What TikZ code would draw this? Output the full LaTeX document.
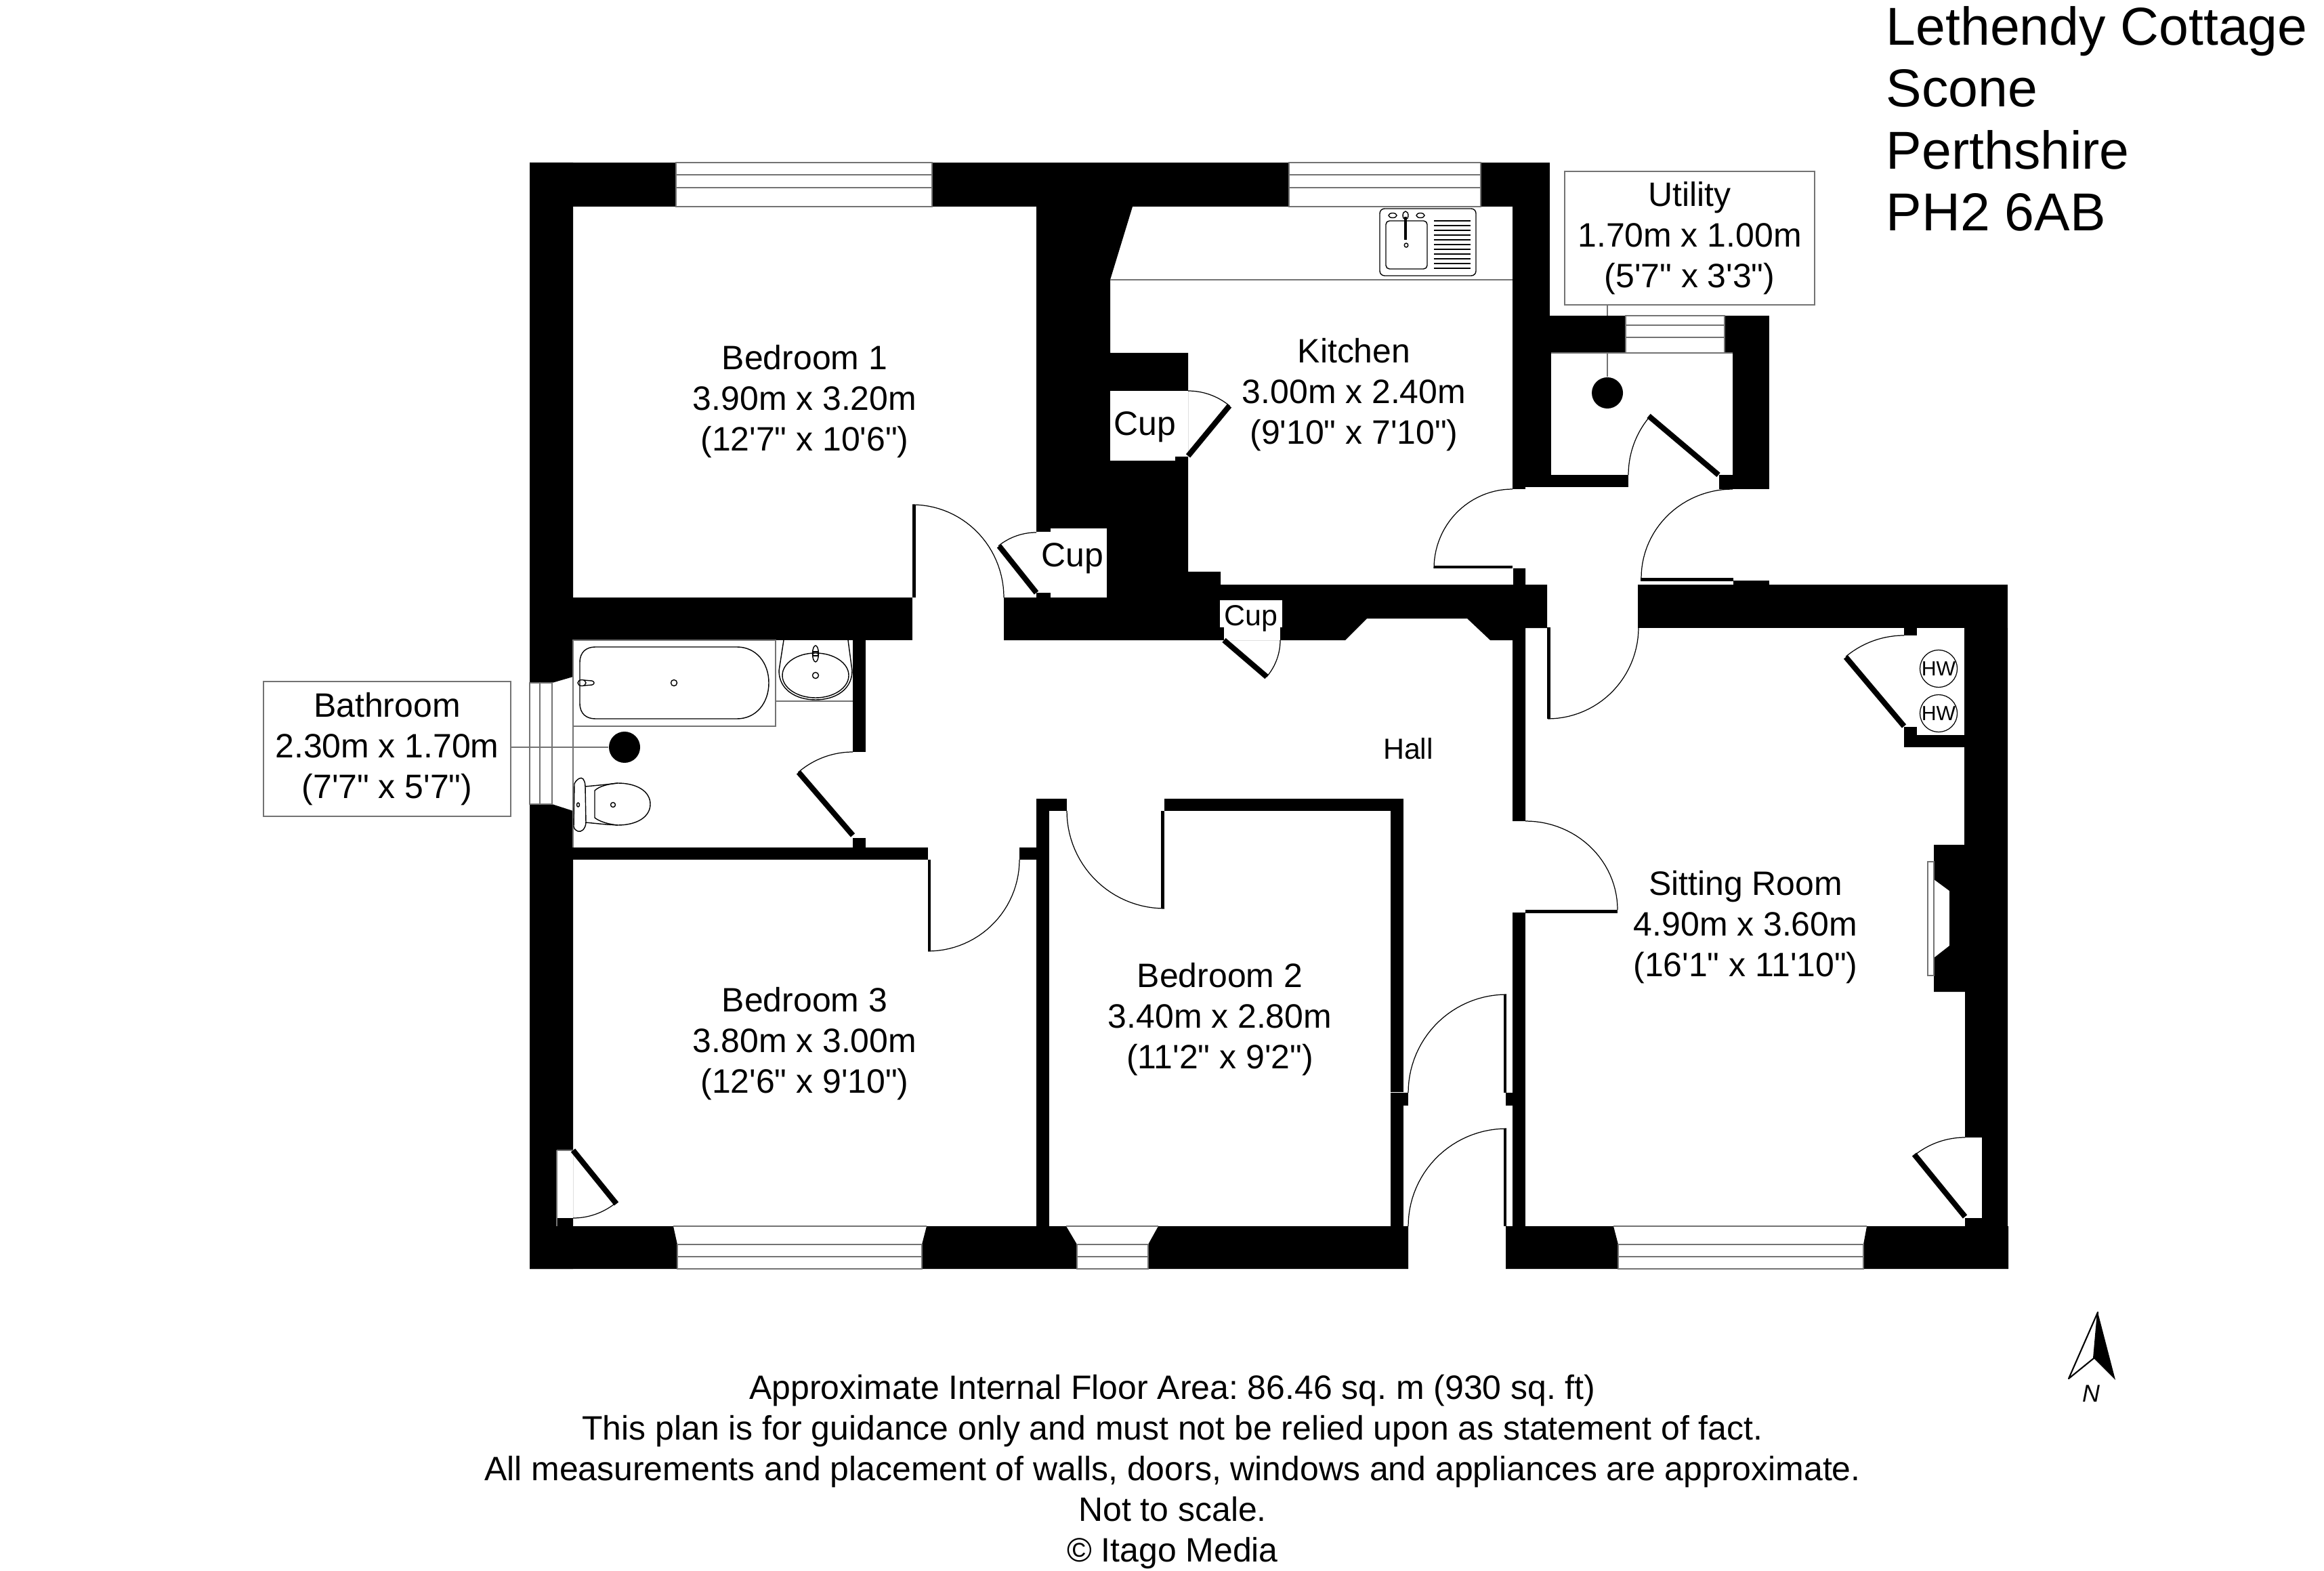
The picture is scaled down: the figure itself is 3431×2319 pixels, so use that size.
\documentclass[tikz,border=0pt]{standalone}
\usepackage{fontspec}
\setmainfont{Liberation Sans}
\newfontfamily\plainsans{Liberation Sans}
\frenchspacing
\newcommand{\sz}[2]{\plainsans\frenchspacing\fontsize{#1}{#2}\selectfont}
\newcommand{\swing}[6]{\draw[swingline] plot[domain=#5:#6,samples=28] ({#1+#3*cos(\x)},{#2+#4*sin(\x)});}
\begin{document}
\begin{tikzpicture}[x=0.01cm,y=-0.01cm,
  wall/.style={fill=black,draw=none},
  gap/.style={fill=white,draw=none},
  pane/.style={draw=black!55,line width=0.5pt},
  fixture/.style={draw=black,line width=0.4pt},
  graybar/.style={draw=black!55,line width=0.65pt},
  swingline/.style={draw=black,line width=0.35pt},
  leaf/.style={draw=black,line width=2.3pt},
  roomtext/.style={align=center,inner sep=0pt,font=\sz{14.2}{17.07}},
  labelbox/.style={draw=black!55,line width=0.55pt,inner sep=0pt,align=center,font=\sz{14.2}{17.07}},
  smalltext/.style={inner sep=0pt,anchor=base,font=\sz{12.2}{14}},
  cuptext/.style={inner sep=0pt,anchor=base,font=\sz{14.2}{17}},
  vent/.style={circle,fill=black,draw=none,inner sep=0pt,minimum size=0.46cm},
  hwtext/.style={circle,draw=black,line width=0.35pt,inner sep=0pt,minimum size=0.55cm,font=\sz{8.6}{9}},
]
\useasboundingbox (0,0) rectangle (3431,2319);
\fill[white] (0,0) rectangle (3431,2319);

% vents and label boxes
\node[vent] (bathdot) at (922,1103) {};
\node[vent] (utildot) at (2373,580) {};
\node[labelbox,minimum width=3.65cm,minimum height=1.99cm] (bathlabel) at (571.5,1105.5) {\raisebox{2pt}{Bathroom}\\\raisebox{2pt}{2.30m x 1.70m}\\\raisebox{2pt}{(7'7" x 5'7")}};
\node[labelbox,minimum width=3.69cm,minimum height=1.97cm] (utillabel) at (2494.5,351.5) {\raisebox{1pt}{Utility}\\\raisebox{1pt}{1.70m x 1.00m}\\\raisebox{1pt}{(5'7" x 3'3")}};
\draw[pane] (bathdot.west) -- (bathdot.west -| bathlabel.east);
\draw[pane] (utildot.north) -- (utildot.north |- utillabel.south);

% outer and load walls
\path[wall] (782,240) rectangle (998,305);
\path[wall] (1376,240) rectangle (1903,305);
\path[wall] (2186,240) rectangle (2288,305);
\path[wall] (782,240) -- (846,240) -- (846,999) -- (815,1008) -- (782,1008) -- cycle;
\path[wall] (782,1187) -- (815,1187) -- (846,1197) -- (846,1873) -- (782,1873) -- cycle;
\path[wall] (846,882) rectangle (1347,945);
\path[wall] (1530,305) -- (1672,305) -- (1639,413) -- (1639,521) -- (1754,521) -- (1754,844) -- (1802,844) -- (1802,863) -- (2234,863) -- (2234,839) -- (2252,839) -- (2252,863) -- (2284,863) -- (2284,927) -- (2252,927) -- (2252,1212) -- (2233,1212) -- (2233,945) -- (2200,945) -- (2166,913) -- (2018,913) -- (1986,945) -- (1482,945) -- (1482,882) -- (1530,882) -- cycle;
\path[gap] (1551,780) rectangle (1634,882);
\path[gap] (1530,785) rectangle (1551,875);
\path[gap] (1639,577) rectangle (1754,674);
\path[gap] (1639,674) rectangle (1735,680);
\path[gap] (1801,886) rectangle (1893,926);
\path[gap] (1807,926) rectangle (1890,945);
% kitchen / utility
\path[wall] (2233,305) rectangle (2288,466);
\path[wall] (2233,466) rectangle (2290,701);
\path[wall] (2233,466) rectangle (2400,521);
\path[wall] (2546,466) rectangle (2612,521);
\path[wall] (2558,521) rectangle (2612,701);
\path[wall] (2538,701) rectangle (2612,722);
\path[wall] (2233,701) rectangle (2404,719);
\path[wall] (2233,719) rectangle (2252,722);
% sitting room
\path[wall] (2418,863) rectangle (2964,927);
\path[wall] (2559,857) rectangle (2612,863);
\path[wall] (2811,927) rectangle (2830,938);
\path[wall] (2811,1073) rectangle (2830,1085);
\path[wall] (2811,1085) rectangle (2964,1103);
\path[wall] (2900,927) -- (2964,927) -- (2964,1810) -- (2901,1810) -- (2901,1798) -- (2926,1798) -- (2926,1679) -- (2901,1679) -- (2901,1464) -- (2855,1464) -- (2855,1414) -- (2878,1396) -- (2878,1315) -- (2855,1298) -- (2855,1247) -- (2900,1247) -- cycle;
\path[wall] (2233,1347) rectangle (2252,1613);
\path[wall] (2223,1613) rectangle (2252,1632);
\path[wall] (2233,1632) rectangle (2252,1810);
% bathroom and bedrooms
\path[wall] (1259,945) rectangle (1278,1110);
\path[wall] (1259,1237) rectangle (1278,1251);
\path[wall] (846,1251) rectangle (1370,1269);
\path[wall] (1505,1251) rectangle (1549,1269);
\path[wall] (1530,1179) rectangle (1549,1810);
\path[wall] (1530,1179) rectangle (1575,1197);
\path[wall] (1719,1179) rectangle (2072,1197);
\path[wall] (2053,1197) rectangle (2072,1612);
\path[wall] (2053,1613) rectangle (2079,1632);
\path[wall] (2053,1632) rectangle (2072,1810);
\path[gap] (822,1698) rectangle (846,1798);
% bottom wall
\path[wall] (782,1810) -- (994,1810) -- (1000,1837) -- (1000,1873) -- (782,1873) -- cycle;
\path[wall] (1368,1810) -- (1574,1810) -- (1590,1837) -- (1590,1873) -- (1361,1873) -- (1361,1837) -- cycle;
\path[wall] (1710,1810) -- (2079,1810) -- (2079,1873) -- (1695,1873) -- (1695,1837) -- cycle;
\path[wall] (2223,1810) -- (2382,1810) -- (2389,1837) -- (2389,1873) -- (2223,1873) -- cycle;
\path[wall] (2756,1810) -- (2965,1810) -- (2965,1873) -- (2751,1873) -- (2751,1837) -- cycle;

% windows
\draw[pane] (998,240) rectangle (1376,305) (998,258) -- (1376,258) (998,277) -- (1376,277);
\draw[pane] (1903,240) rectangle (2186,305) (1903,258) -- (2186,258) (1903,277) -- (2186,277);
\draw[pane] (2400,466) rectangle (2546,521) (2400,480) -- (2546,480) (2400,498) -- (2546,498);
\draw[pane] (2290,521) -- (2558,521);
\draw[pane] (1000,1837) rectangle (1361,1873) (1000,1855) -- (1361,1855) (994,1810) -- (1368,1810);
\draw[pane] (1590,1837) rectangle (1695,1873) (1590,1855) -- (1695,1855) (1574,1810) -- (1710,1810);
\draw[pane] (2389,1837) rectangle (2751,1873) (2389,1855) -- (2751,1855) (2382,1810) -- (2756,1810);
\draw[pane] (782,1008) rectangle (815,1187) (797,1008) -- (797,1187);
\draw[pane] (846,945) -- (846,1251);
\draw[pane] (822,1698) -- (822,1810) (822,1698) -- (846,1698);
\draw[pane] (2846,1272) rectangle (2855,1440);
\draw[pane] (1639,413) -- (2233,413);

% door leaves
\path[wall] (1347,745) rectangle (1352,882);
\path[wall] (2117,835) rectangle (2233,839);
\path[wall] (2422,853) rectangle (2559,858);
\path[wall] (2284,926) rectangle (2289,1061);
\path[wall] (2252,1343) rectangle (2388,1348);
\path[wall] (2220,1468) rectangle (2224,1613);
\path[wall] (2220,1666) rectangle (2224,1810);
\path[wall] (1714,1197) rectangle (1719,1341);
\path[wall] (1370,1269) rectangle (1374,1404);
\draw[leaf] (1530,875) -- (1475,806);
\draw[leaf] (1754,673) -- (1815,599);
\draw[leaf] (1807,945) -- (1870,999);
\draw[leaf] (2537,701) -- (2434,614);
\draw[leaf] (2811,1072) -- (2725,970);
\draw[leaf] (2901,1796) -- (2826,1704);
\draw[leaf] (846,1698) -- (910,1777);
\draw[leaf] (1259,1233) -- (1179,1140);

% door swings
\swing{1347}{882}{135}{137}{270}{360}
\swing{1530}{875}{89}{89}{231}{270}
\swing{1754}{673}{96}{96}{270}{310}
\swing{1807}{945}{83}{83}{0}{41}
\swing{2233}{839}{116}{117}{180}{270}
\swing{2537}{701}{133}{133}{180}{220}
\swing{2558}{853}{135}{131}{180}{270}
\swing{2285}{926}{134}{135}{0}{90}
\swing{2811}{1072}{134}{134}{230}{270}
\swing{2252}{1343}{136}{131}{270}{360}
\swing{2224}{1613}{145}{145}{180}{270}
\swing{2224}{1810}{145}{144}{180}{270}
\swing{2901}{1798}{119}{119}{231}{270}
\swing{846}{1698}{100}{100}{51}{90}
\swing{1719}{1197}{144}{144}{90}{180}
\swing{1370}{1269}{135}{135}{0}{90}
\swing{1259}{1233}{123}{123}{229}{270}

% bath
\draw[graybar] (846,945) rectangle (1145,1072);
\draw[fixture] (856,978) .. controls (856,962) and (866,955) .. (879,955) -- (1088,955) .. controls (1116,955) and (1135,978) .. (1135,1008) .. controls (1135,1038) and (1116,1061) .. (1088,1061) -- (879,1061) .. controls (866,1061) and (856,1054) .. (856,1038) -- cycle;
\draw[fixture] (859,1008) ellipse [x radius=6,y radius=4.5];
\draw[fixture] (862,1004) -- (874,1005) .. controls (878,1006) and (878,1010) .. (874,1011) -- (862,1012);
\draw[fixture] (995,1008) ellipse [x radius=4.5,y radius=4.5];
% basin
\draw[graybar] (1145,945) -- (1145,1035) -- (1259,1035);
\draw[fixture] (1157,945) -- (1150,990) .. controls (1150,1018) and (1175,1033) .. (1204,1033) .. controls (1233,1033) and (1258,1018) .. (1258,990) -- (1252,945);
\draw[fixture] (1204,997) ellipse [x radius=49,y radius=33];
\draw[fixture] (1204,997) ellipse [x radius=4.5,y radius=4.5];
\draw[fixture] (1204,965) ellipse [x radius=4.5,y radius=12];
\draw[fixture] (1200,962) rectangle (1208,968);
% wc
\draw[fixture] (848,1157) .. controls (851,1150) and (858,1146) .. (861,1150) .. controls (864,1155) and (864,1158) .. (864,1161) -- (865,1215) .. controls (864,1224) and (858,1229) .. (853,1227) .. controls (850,1226) and (848,1224) .. (847,1220) -- cycle;
\draw[fixture] (864,1161) -- (895,1158) -- (912,1156) .. controls (940,1156) and (960,1168) .. (960,1187) .. controls (960,1206) and (940,1218) .. (912,1218) -- (895,1217) -- (864,1214);
\draw[fixture] (912,1156) .. controls (900,1157) and (885,1160) .. (878,1167) -- (878,1207) .. controls (885,1213) and (900,1217) .. (912,1218);
\draw[fixture] (905,1188) ellipse [x radius=3.5,y radius=3.5];
\draw[fixture] (853.5,1188) ellipse [x radius=2,y radius=3];
% kitchen sink
\draw[fixture,rounded corners=2pt] (2037,308) rectangle (2179,407);
\draw[fixture,rounded corners=1.5pt] (2046,326) rectangle (2107,397);
\foreach \yy in {326,333,340,347,354,361,368,375,382,389,396} {\draw[draw=black,line width=0.55pt] (2117,\yy) -- (2171,\yy);}
\draw[draw=black,line width=0.9pt] (2075,320) -- (2075,354);
\draw[fixture] (2075,318) ellipse [x radius=4,y radius=6];
\draw[fixture] (2076,362) ellipse [x radius=2.8,y radius=3];
\draw[fixture] (2056,318) ellipse [x radius=6,y radius=3.5];
\draw[fixture] (2097,318) ellipse [x radius=6,y radius=3.5];

% room labels
\node[roomtext] (bedone) at (1188,593) {Bedroom 1\\3.90m x 3.20m\\(12'7" x 10'6")};
\node[roomtext] (kitchen) at (1999,583) {Kitchen\\3.00m x 2.40m\\(9'10" x 7'10")};
\node[roomtext] (bedthree) at (1188,1541) {Bedroom 3\\3.80m x 3.00m\\(12'6" x 9'10")};
\node[roomtext] (bedtwo) at (1801,1505) {Bedroom 2\\3.40m x 2.80m\\(11'2" x 9'2")};
\node[roomtext] (sitting) at (2577,1369) {Sitting Room\\4.90m x 3.60m\\(16'1" x 11'10")};
\node[smalltext] (hall) at (2079,1120) {Hall};
\node[cuptext] (cupa) at (1583,837) {Cup};
\node[cuptext] (cupb) at (1690,643) {Cup};
\node[smalltext] (cupc) at (1847,923) {Cup};
\node[hwtext] (hwa) at (2862,987) {HW};
\node[hwtext] (hwb) at (2862,1053) {HW};

% title
\node[inner sep=0pt,anchor=south west,align=left,font=\sz{22.4}{26}] (title) at (2784,342) {Lethendy Cottage\\Scone\\Perthshire\\PH2 6AB};

% footer
\node[align=center,inner sep=0pt,font=\sz{14.2}{17.07}] (footer) at (1731,2173) {Approximate Internal Floor Area: 86.46 sq. m (930 sq. ft)\\This plan is for guidance only and must not be relied upon as statement of fact.\\All measurements and placement of walls, doors, windows and appliances are approximate.\\Not to scale.\\© Itago Media};

% north arrow
\coordinate (napex) at (3097,1937);
\coordinate (nleft) at (3054,2035);
\coordinate (nnotch) at (3091,2005);
\coordinate (nright) at (3123,2037);
\draw[black,line width=0.6pt,line join=round] (napex) -- (nleft) -- (nnotch) -- cycle;
\fill[black] (napex) -- (nnotch) -- (nright) -- cycle;
\node[inner sep=0pt,font=\sz{10.2}{12}\itshape] (northn) at (3087,2057) {N};
\end{tikzpicture}
\end{document}
